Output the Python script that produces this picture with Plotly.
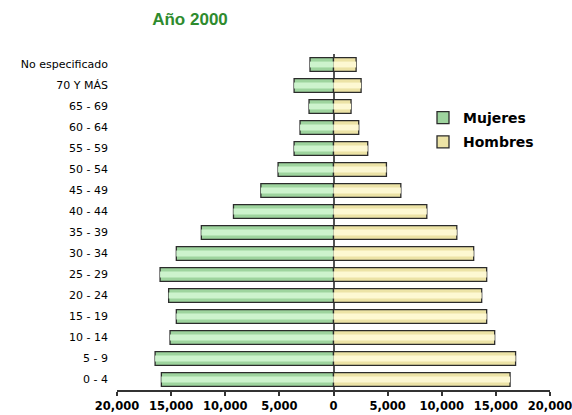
import plotly.graph_objects as go

# Población por grupos de edad, año 2000
grupos = ["0 - 4", "5 - 9", "10 - 14", "15 - 19", "20 - 24", "25 - 29",
          "30 - 34", "35 - 39", "40 - 44", "45 - 49", "50 - 54", "55 - 59",
          "60 - 64", "65 - 69", "70 Y MÁS", "No especificado"]
mujeres = [15900, 16480, 15100, 14520, 15230, 16020, 14520, 12210,
           9240, 6710, 5120, 3640, 3090, 2260, 3640, 2170]
hombres = [16310, 16820, 14890, 14150, 13690, 14150, 12950, 11390,
           8620, 6220, 4890, 3160, 2330, 1620, 2550, 2090]

tick_vals = [-20000, -15000, -10000, -5000, 0, 5000, 10000, 15000, 20000]
tick_text = ["20,000", "15,000", "10,000", "5,000", "0",
             "5,000", "10,000", "15,000", "20,000"]

verde_borde, verde_claro = "#9ed49e", "#cdf3cd"
amarillo_borde, amarillo_claro = "#ece3a6", "#fdf8d2"

fig = go.Figure()

# Mujeres a la izquierda (valores negativos), Hombres a la derecha
fig.add_trace(go.Bar(
    y=grupos, x=[-v for v in mujeres], orientation="h", name="<b>Mujeres</b>",
    legendgroup="m",
    marker=dict(color=verde_borde, line=dict(color="#2b2b2b", width=1.3)),
))
fig.add_trace(go.Bar(
    y=grupos, x=hombres, orientation="h", name="<b>Hombres</b>",
    legendgroup="h",
    marker=dict(color=amarillo_borde, line=dict(color="#2b2b2b", width=1.3)),
))
# franja central más clara para dar relieve a las barras
fig.add_trace(go.Bar(
    y=grupos, x=[-v for v in mujeres], orientation="h", width=0.28,
    marker=dict(color=verde_claro, line=dict(width=0)),
    showlegend=False, hoverinfo="skip",
))
fig.add_trace(go.Bar(
    y=grupos, x=hombres, orientation="h", width=0.28,
    marker=dict(color=amarillo_claro, line=dict(width=0)),
    showlegend=False, hoverinfo="skip",
))

fig.update_layout(
    width=572, height=415,
    margin=dict(l=117, r=22, t=54, b=25, autoexpand=False),
    paper_bgcolor="white", plot_bgcolor="white",
    barmode="overlay", bargap=0.34,
    font=dict(family="DejaVu Sans, Arial, sans-serif", color="black"),
    title=dict(text="<b>Año 2000</b>", x=190 / 572, xanchor="center",
               y=1 - 19 / 415, yanchor="middle",
               font=dict(size=17, color="#2e8b2e",
                         family="Liberation Sans, Arial, sans-serif")),
    legend=dict(x=(423 - 117) / 433, y=(415 - 25 - 102) / 336,
                xanchor="left", yanchor="top",
                font=dict(size=14, color="black", family="DejaVu Sans, sans-serif"),
                itemwidth=30, tracegroupgap=3, traceorder="grouped",
                bgcolor="rgba(0,0,0,0)"),
    showlegend=True,
)

fig.update_xaxes(
    range=[-20000, 20000], tickvals=tick_vals,
    ticktext=[f"<b>{t}</b>" for t in tick_text],
    showgrid=False, zeroline=True, zerolinecolor="#555555", zerolinewidth=1.5,
    showline=True, linecolor="#333333", linewidth=2,
    ticks="outside", ticklen=4, tickwidth=2, tickcolor="#333333",
    tickfont=dict(size=11.5, family="DejaVu Sans, sans-serif"),
    ticklabeloverflow="allow",
    automargin=False, fixedrange=True,
)
fig.update_yaxes(
    categoryorder="array", categoryarray=grupos,
    showgrid=False, zeroline=False, showline=False, ticks="",
    ticklabelstandoff=8,
    tickfont=dict(size=11, family="DejaVu Sans, sans-serif"),
    automargin=False, fixedrange=True,
)

fig.write_html("out.html")
